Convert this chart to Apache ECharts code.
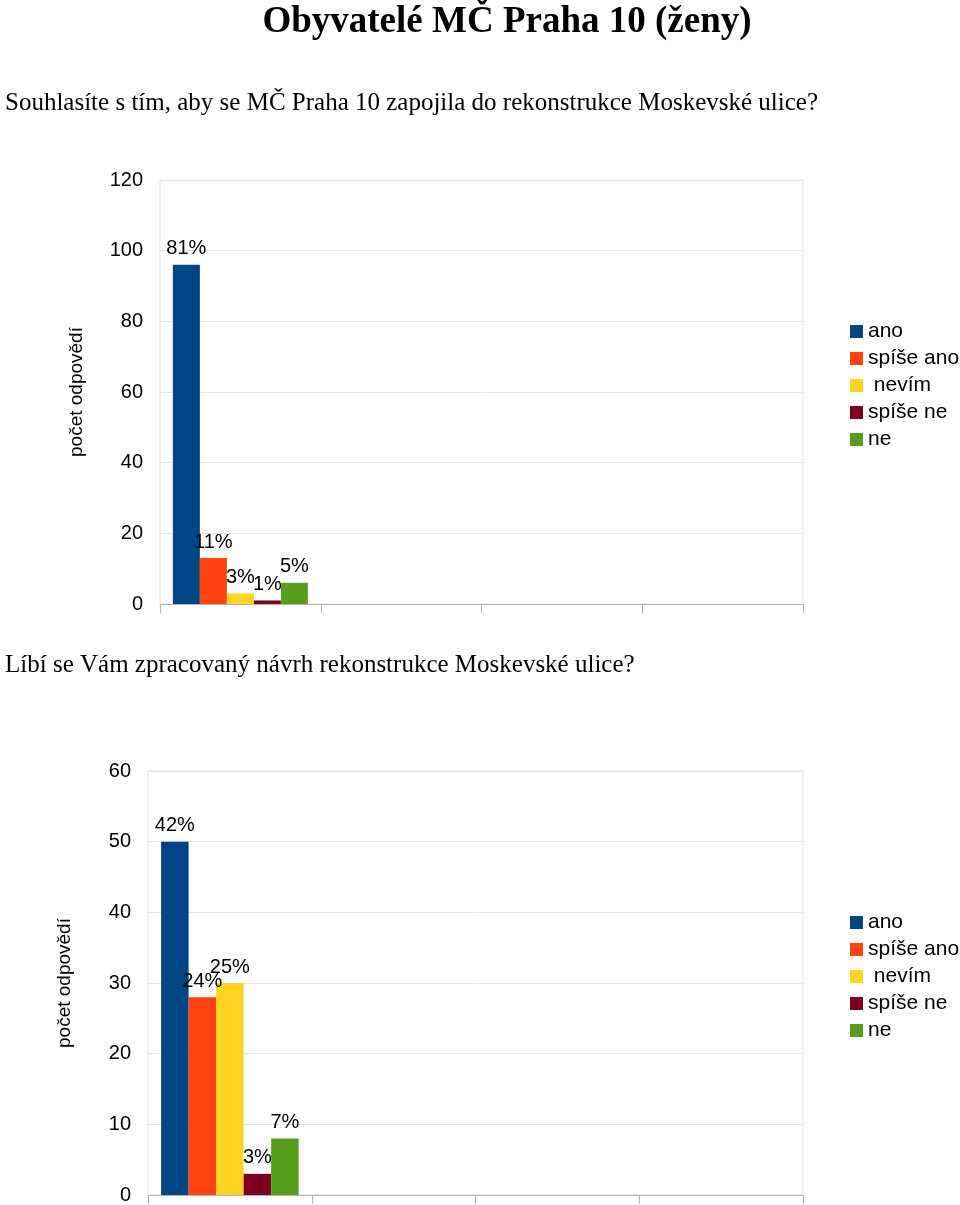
<!DOCTYPE html>
<html>
<head>
<meta charset="utf-8">
<script src="https://cdn.jsdelivr.net/npm/echarts@6/dist/echarts.min.js"></script>
<style>
  html, body { margin: 0; padding: 0; background: #fff; }
  #chart { width: 960px; height: 1205px; }
</style>
</head>
<body>
<div id="chart"></div>
<script>
// ---- data ----
const pageTitle = 'Obyvatelé MČ Praha 10 (ženy)';
const question1 = 'Souhlasíte s tím, aby se MČ Praha 10 zapojila do rekonstrukce Moskevské ulice?';
const question2 = 'Líbí se Vám zpracovaný návrh rekonstrukce Moskevské ulice?';
const answers = ['ano', 'spíše ano', ' nevím', 'spíše ne', 'ne'];
const answerColors = ['#004586', '#ff420e', '#ffd320', '#7e0021', '#579d1c'];
const xCategories = ['', '', '', ''];
const chart1Values = [96, 13, 3, 1, 6];
const chart1Percent = ['81%', '11%', '3%', '1%', '5%'];
const chart2Values = [50, 28, 30, 3, 8];
const chart2Percent = ['42%', '24%', '25%', '3%', '7%'];
const yTicks1 = [0, 20, 40, 60, 80, 100, 120];
const yTicks2 = [0, 10, 20, 30, 40, 50, 60];
const yAxisName = 'počet odpovědí';

// ---- build ----
const chart = echarts.init(document.getElementById('chart'), null, { renderer: 'canvas' });
const sans = 'Liberation Sans, Arial, sans-serif';
const serif = 'Liberation Serif, Times New Roman, serif';

function makeSeries(values, labels, gridIdx) {
  return answers.map((name, i) => ({
    type: 'bar',
    name: name,
    xAxisIndex: gridIdx,
    yAxisIndex: gridIdx,
    data: xCategories.map((c, j) => j === 0 ? values[i] : '-'),
    barGap: '0%',
    barCategoryGap: '16%',
    itemStyle: { color: answerColors[i] },
    label: {
      show: true,
      position: 'top',
      distance: 6,
      color: '#000',
      fontFamily: sans,
      fontSize: 20,
      formatter: () => labels[i]
    },
    emphasis: { disabled: true },
    animation: false
  }));
}

function makeX(gridIdx) {
  return {
    type: 'category',
    gridIndex: gridIdx,
    data: xCategories,
    boundaryGap: true,
    axisLine: { show: true, lineStyle: { color: '#b3b3b3', width: 1 } },
    axisTick: { show: true, length: 9, lineStyle: { color: '#b3b3b3' } },
    axisLabel: { show: false },
    splitLine: { show: false }
  };
}

function makeY(gridIdx, ticks) {
  return {
    type: 'value',
    gridIndex: gridIdx,
    min: ticks[0],
    max: ticks[ticks.length - 1],
    interval: ticks[1] - ticks[0],
    name: yAxisName,
    nameLocation: 'middle',
    nameGap: 74,
    nameTextStyle: { color: '#000', fontFamily: sans, fontSize: 19 },
    axisLine: { show: false },
    axisTick: { show: false },
    axisLabel: { color: '#000', fontFamily: sans, fontSize: 20, margin: 17 },
    splitLine: { show: true, lineStyle: { color: '#e3e3e3', width: 1 } }
  };
}

function makeLegend(top) {
  return {
    orient: 'vertical',
    left: 845,
    top: top,
    data: answers,
    icon: 'rect',
    itemWidth: 13,
    itemHeight: 13,
    itemGap: 6,
    selectedMode: false,
    textStyle: { color: '#000', fontFamily: sans, fontSize: 21, lineHeight: 20, padding: [0, 0, 0, 0] }
  };
}

const option = {
  backgroundColor: '#fff',
  animation: false,
  graphic: [
    { type: 'text', x: 507, y: 22, style: { text: pageTitle, font: 'bold 37px ' + serif, fill: '#000', textAlign: 'center', textVerticalAlign: 'middle' } },
    { type: 'text', x: 5, y: 103, style: { text: question1, font: '25px ' + serif, fill: '#000', textAlign: 'left', textVerticalAlign: 'middle' } },
    { type: 'text', x: 5, y: 665, style: { text: question2, font: '25px ' + serif, fill: '#000', textAlign: 'left', textVerticalAlign: 'middle' } }
  ],
  grid: [
    { left: 160, top: 180, width: 643, height: 424, show: true, borderColor: '#e3e3e3', borderWidth: 1, backgroundColor: 'transparent' },
    { left: 148, top: 771, width: 655, height: 424, show: true, borderColor: '#e3e3e3', borderWidth: 1, backgroundColor: 'transparent' }
  ],
  legend: [makeLegend(316), makeLegend(907)],
  xAxis: [makeX(0), makeX(1)],
  yAxis: [makeY(0, yTicks1), makeY(1, yTicks2)],
  series: [].concat(makeSeries(chart1Values, chart1Percent, 0), makeSeries(chart2Values, chart2Percent, 1))
};
chart.setOption(option);
</script>
</body>
</html>
